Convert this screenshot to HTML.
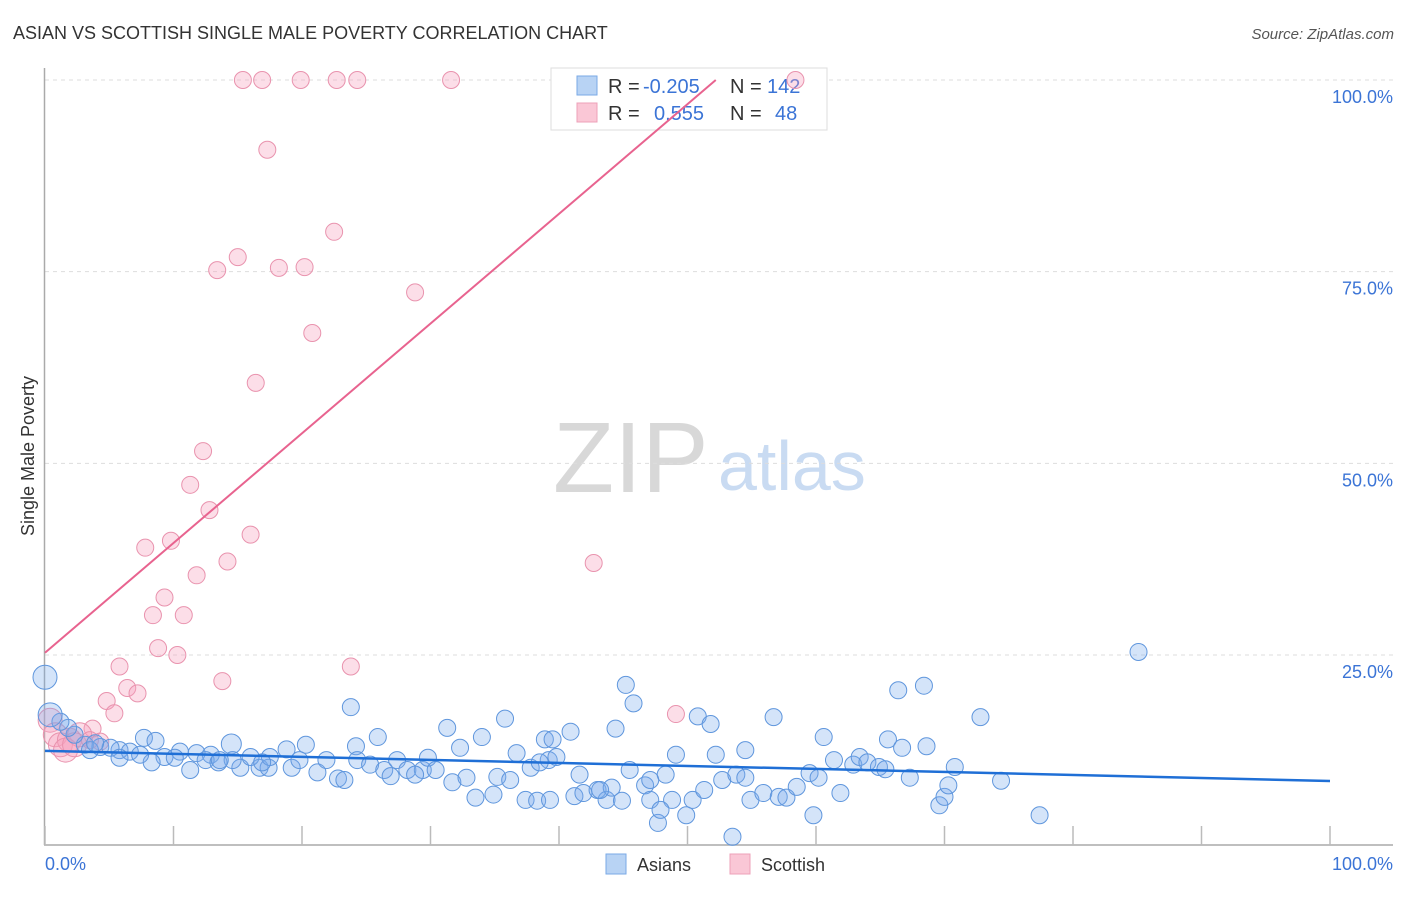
<!DOCTYPE html>
<html><head><meta charset="utf-8"><style>
body{margin:0;background:#fff;font-family:"Liberation Sans",sans-serif}
svg text{font-family:"Liberation Sans",sans-serif}
</style></head><body>
<svg id="chart" width="1406" height="892" viewBox="0 0 1406 892">
<text x="13" y="39" font-size="18" fill="#333">ASIAN VS SCOTTISH SINGLE MALE POVERTY CORRELATION CHART</text>
<text x="1394" y="39" font-size="15" font-style="italic" fill="#555" text-anchor="end">Source: ZipAtlas.com</text>
<text x="553" y="492" font-size="100" font-family="Liberation Serif" fill="#d8d8d8">ZIP</text>
<text x="718" y="490" font-size="70" fill="#c9dbf2">atlas</text>
<g id="grid"></g>
<g id="axes"></g>
<g>
<rect x="551" y="68" width="276" height="62" fill="#fff" stroke="#ddd"/>
<rect x="577" y="76" width="20" height="19" fill="#b8d3f4" stroke="#7aa9e6"/>
<rect x="577" y="103" width="20" height="19" fill="#fac7d6" stroke="#eda0b8"/>
<text x="608" y="93" font-size="20" fill="#333">R = </text><text x="643" y="93" font-size="20" fill="#3b74d6">-0.205</text>
<text x="730" y="93" font-size="20" fill="#333">N = </text><text x="767" y="93" font-size="20" fill="#3b74d6">142</text>
<text x="608" y="120" font-size="20" fill="#333">R = </text><text x="654" y="120" font-size="20" fill="#3b74d6">0.555</text>
<text x="730" y="120" font-size="20" fill="#333">N = </text><text x="775" y="120" font-size="20" fill="#3b74d6">48</text>
</g>
<g id="marks"></g>
<text transform="translate(34,456) rotate(-90)" font-size="18" fill="#333" text-anchor="middle">Single Male Poverty</text>
<text x="45" y="870" font-size="18" fill="#3b74d6">0.0%</text>
<text x="1393" y="870" font-size="18" fill="#3b74d6" text-anchor="end">100.0%</text>
<g>
<rect x="606" y="854" width="20" height="20" fill="#b8d3f4" stroke="#7aa9e6"/>
<text x="637" y="871" font-size="18" fill="#333">Asians</text>
<rect x="730" y="854" width="20" height="20" fill="#fac7d6" stroke="#eda0b8"/>
<text x="761" y="871" font-size="18" fill="#333">Scottish</text>
</g>
</svg>
<script>
const yTicks=[25,50,75,100];
const yTickLabels=["25.0%","50.0%","75.0%","100.0%"];
const xTicks=[0,10,20,30,40,50,60,70,80,90,100];
const asianX=[85.1,45.2,45.8,68.4,66.4,23.8,50.8,51.8,56.7,72.8,35.8,40.9,31.3,25.9,34.0,38.9,39.5,44.4,60.6,65.6,66.7,68.6,7.7,14.5,20.3,18.8,24.2,8.6,10.5,11.8,12.9,5.8,4.3,6.6,9.3,10.1,11.3,8.3,12.5,13.5,15.2,16.7,17.4,19.2,21.2,21.9,22.8,23.3,24.3,25.3,26.4,26.9,27.4,28.2,29.4,29.8,30.4,31.7,32.8,33.5,34.9,35.2,36.2,36.7,37.8,37.4,38.3,39.2,39.8,41.6,41.2,41.9,43.0,43.7,44.1,44.9,46.7,47.1,48.3,47.7,49.1,48.8,49.9,50.4,51.3,52.2,52.7,53.8,54.5,54.9,55.9,57.1,57.7,58.5,59.5,60.2,59.8,61.4,61.9,62.9,63.4,64.0,64.9,65.4,67.3,69.6,70.0,70.3,70.8,74.4,77.4,53.5,47.9,54.5,45.5,38.5,32.3,28.8,17.5,16.0,14.6,13.6,19.8,7.4,5.1,3.1,2.3,1.8,1.2,0.4,0,3.5,3.9,5.8,16.9,39.3,43.2,47.1];
const asianY=[25.4,21.1,18.7,21.0,20.4,18.2,17.0,16.0,16.9,16.9,16.7,15.0,15.5,14.3,14.3,14.0,14.0,15.4,14.3,14.0,12.9,13.1,14.2,13.4,13.3,12.7,13.1,13.8,12.4,12.2,12.0,12.6,13.0,12.4,11.7,11.6,10.0,11.0,11.3,11.0,10.3,10.3,10.3,10.3,9.7,11.3,8.9,8.7,11.3,10.7,10.0,9.2,11.3,10.0,10.0,11.6,10.0,8.4,9.0,6.4,6.8,9.1,8.7,12.2,10.3,6.1,6.0,11.3,11.7,9.4,6.6,7.0,7.4,6.1,7.7,6.0,8.0,6.1,9.4,3.1,12.0,6.1,4.1,6.1,7.4,12.0,8.7,9.4,9.0,6.1,7.0,6.5,6.4,7.8,9.6,9.0,4.1,11.3,7.0,10.7,11.7,11.0,10.4,10.1,9.0,5.4,6.5,8.0,10.4,8.6,4.1,1.3,4.8,12.6,10.0,11.0,12.9,9.4,11.7,11.7,11.3,11.3,11.3,12.0,12.9,13.3,14.6,15.5,16.3,17.2,22.1,12.6,13.5,11.6,11.0,6.1,7.4,8.7];
const scotX=[15.4,16.9,19.9,22.7,24.3,31.6,58.4,17.3,15.0,13.4,18.2,20.2,22.5,28.8,20.8,16.4,12.3,11.3,12.8,7.8,9.8,16.0,14.2,11.8,9.3,8.4,10.8,8.8,10.3,5.8,23.8,6.4,7.2,13.8,4.8,5.4,3.7,42.7,49.1,0.4,0.8,1.2,1.9,2.7,1.6,2.3,3.5,4.3];
const scotY=[100,100,100,100,100,100,100,90.9,76.9,75.2,75.5,75.6,80.2,72.3,67.0,60.5,51.6,47.2,43.9,39.0,39.9,40.7,37.2,35.4,32.5,30.2,30.2,25.9,25.0,23.5,23.5,20.7,20.0,21.6,19.0,17.4,15.4,37.0,17.3,16.5,14.6,13.3,13.9,14.6,12.6,13.3,13.9,13.7];
const asianTrend=[12.5,8.57];
const scotTrend=[25.3,100,52.2];
const NS="http://www.w3.org/2000/svg";
const X0=45,X1=1330,Y0=846.7,Y100=80;
function sx(v){return X0+(X1-X0)*v/100;}
function sy(v){return Y0+(Y100-Y0)*v/100;}
function mk(t,a,p){const e=document.createElementNS(NS,t);for(const k in a)e.setAttribute(k,a[k]);p.appendChild(e);return e;}
const grid=document.getElementById('grid'),axes=document.getElementById('axes'),marks=document.getElementById('marks');
yTicks.forEach((v,i)=>{
 const l=mk('line',{x1:45,x2:1393,y1:sy(v),y2:sy(v),stroke:'#ddd','stroke-dasharray':'4,4'},grid);
 
 
 const t=mk('text',{x:1393,y:sy(v)+23,'font-size':18,fill:'#3b74d6','text-anchor':'end'},grid);
 t.textContent=yTickLabels[i];
 
 
});
const ya=mk('line',{x1:44.5,x2:44.5,y1:68,y2:845,stroke:'#aaa','stroke-width':1.5},axes);


const xa=mk('line',{x1:44,x2:1393,y1:845,y2:845,stroke:'#aaa','stroke-width':1.5},axes);


xTicks.forEach(v=>{
 const t=mk('line',{x1:sx(v),x2:sx(v),y1:826,y2:845,stroke:'#bbb','stroke-width':1.5},axes);
 
 
});
scotX.forEach((x,i)=>{
 const c=mk('circle',{cx:sx(x),cy:sy(scotY[i]),r:(x<3?12:8.5),fill:'rgba(245,160,190,0.35)',stroke:'#e993ae','stroke-width':1},marks);
 
 
});
asianX.forEach((x,i)=>{
 const big=(x<1);
 const c=mk('circle',{cx:sx(x),cy:sy(asianY[i]),r:(big?12:(asianY[i]>13&&x>13&&x<16?10:8.5)),fill:'rgba(120,170,235,0.32)',stroke:'#5f96dd','stroke-width':1},marks);
 
 
});
const al=mk('line',{x1:sx(0),y1:sy(asianTrend[0]),x2:sx(100),y2:sy(asianTrend[1]),stroke:'#1f6fd6','stroke-width':2.5},marks);


const pl=mk('line',{x1:sx(0),y1:sy(scotTrend[0]),x2:sx(scotTrend[2]),y2:sy(scotTrend[1]),stroke:'#e8638f','stroke-width':2},marks);


</script>
</body></html>
